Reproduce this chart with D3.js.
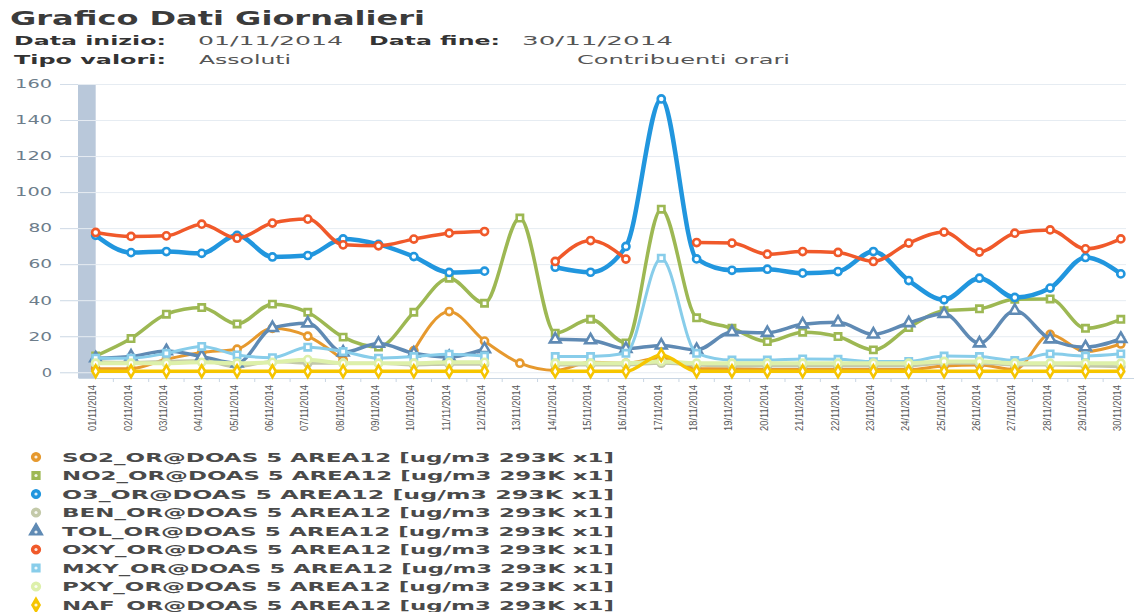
<!DOCTYPE html>
<html><head><meta charset="utf-8">
<script src="https://cdn.jsdelivr.net/npm/d3@7"></script>
<style>
html,body{margin:0;padding:0;background:#fff;}
svg{display:block;}
</style></head>
<body>
<svg id="chart" width="1134" height="612"></svg>
<script>
// ---- DATA ----
const days = ["01/11/2014","02/11/2014","03/11/2014","04/11/2014","05/11/2014","06/11/2014","07/11/2014","08/11/2014","09/11/2014","10/11/2014",
  "11/11/2014","12/11/2014","13/11/2014","14/11/2014","15/11/2014","16/11/2014","17/11/2014","18/11/2014","19/11/2014","20/11/2014",
  "21/11/2014","22/11/2014","23/11/2014","24/11/2014","25/11/2014","26/11/2014","27/11/2014","28/11/2014","29/11/2014","30/11/2014"];
const yTicks = [0,20,40,60,80,100,120,140,160];

const so2 = [2,2,7.2,11,12.8,24.4,20,6.8,null,12,33.7,17.3,5,1,5.5,5,8,2,2,1.5,1.5,1.5,1.5,1.5,3.5,4,1.5,21,11.5,15.7];
const no2 = [9,18.7,32.2,35.9,26.8,37.8,33.3,19.5,14,33.3,52.2,38.3,85.6,21.7,29.4,16.3,90.5,30.2,24.4,17,22.2,19.8,12.4,24.8,34.2,35.2,40.5,40.7,24.4,29.4];
const o3  = [76,66.4,67,66,76,64,64.8,74,71,64.2,55.4,56.1,null,58.3,55.5,69.8,151.7,62.9,56.6,57.2,55,55.9,67,50.9,40.2,52.2,41.5,46.7,63.7,54.6];
const ben = [6,5.5,6,6.5,3,6,5,5,5,4,4.5,4.5,null,4,4,4,5,4,3.5,3.5,3.5,3.5,3.5,3.5,5,5,4,4,3.5,3];
const tol = [7.8,8.8,11.8,8.8,5,24.6,27.2,11,15.9,10.5,8.5,12.9,null,18.3,17.8,13,14.9,12.4,22.3,21.9,26.6,27.7,21,27.3,32.4,16.1,34.2,18.3,13.9,18.6];
const oxy = [77.6,75.4,75.7,82.2,74.4,82.8,85,70.7,70.2,73.9,77.2,78.1,null,61.5,73.1,62.8,null,72,71.7,65.5,67,66.5,61.5,71.7,77.8,66.7,77.2,79,68.5,74];
const mxy = [7.8,7.8,10.5,14.3,9.6,8.1,13.9,11.5,7.8,8.7,10,9,null,8.7,8.7,10.5,63.3,10.5,6.8,6.8,7.4,7.2,5.9,6,9,8.7,6.5,10.2,9,10.2];
const pxy = [5,5,5,5.5,5,5.5,7,5,5,5,5.5,5.5,null,5,5,5,6,5,5,5,5,5,5,5,6,6,5,5,5,5];
const naf = [0.5,0.5,0.5,0.5,0.5,0.5,0.5,0.5,0.5,0.5,0.5,0.5,null,0.5,0.5,0.5,9.6,0.5,0.5,0.5,0.5,0.5,0.5,0.5,0.5,0.5,0.5,0.5,0.5,0.5];

const seriesNames = ["SO2_OR@DOAS 5 AREA12 [ug/m3 293K x1]","NO2_OR@DOAS 5 AREA12 [ug/m3 293K x1]","O3_OR@DOAS 5 AREA12 [ug/m3 293K x1]",
  "BEN_OR@DOAS 5 AREA12 [ug/m3 293K x1]","TOL_OR@DOAS 5 AREA12 [ug/m3 293K x1]","OXY_OR@DOAS 5 AREA12 [ug/m3 293K x1]",
  "MXY_OR@DOAS 5 AREA12 [ug/m3 293K x1]","PXY_OR@DOAS 5 AREA12 [ug/m3 293K x1]","NAF_OR@DOAS 5 AREA12 [ug/m3 293K x1]"];
const seriesValues = [so2,no2,o3,ben,tol,oxy,mxy,pxy,naf];
const seriesColors = ["#e6992e","#9db853","#2196de","#c3c9a9","#5f8ab4","#f0592a","#88cdea","#ddf0aa","#f6c500"];
const seriesSymbols = ["circle","square","circle","circle","triangle","circle","square","circle","diamond"];
const seriesWidths = [3,3.5,4.5,3,3.5,3.5,3,4,3.5];

// ---- LAYOUT ----
const svg = d3.select("#chart");
const plotLeft = 78, plotRight = 1126, plotTop = 84, plotBottom = 378;
const x = d3.scaleLinear().domain([-0.5, 29.5]).range([78, 1138.5]);
const y = d3.scaleLinear().domain([-3.2, 160]).range([plotBottom, plotTop]);

// Header
const hdr = svg.append("g").attr("font-family","DejaVu Sans, Verdana, sans-serif");
function htext(t, xx, yy, size, bold, len, color){
  hdr.append("text").attr("x",xx).attr("y",yy).attr("font-size",size)
    .attr("font-weight",bold?"bold":"normal").attr("fill",color)
    .attr("textLength",len).attr("lengthAdjust","spacingAndGlyphs").text(t);
}
htext("Grafico Dati Giornalieri",10,25,20,true,415,"#3b3b3b");
htext("Data inizio:",14,45,13,true,152,"#333");
htext("01/11/2014",198,45,13,false,145,"#555");
htext("Data fine:",369,45,13,true,131,"#333");
htext("30/11/2014",522,45,13,false,151,"#555");
htext("Tipo valori:",14,64,13,true,152,"#333");
htext("Assoluti",199,64,13,false,92,"#555");
htext("Contribuenti orari",577,64,13,false,213,"#555");

// plot band
svg.append("rect").attr("x",x(-0.5)).attr("y",plotTop).attr("width",x(0)-x(-0.5)).attr("height",plotBottom-plotTop)
  .attr("fill","#b9c8da");

// grid
svg.append("g").selectAll("line").data(yTicks).join("line")
  .attr("x1",60).attr("x2",plotRight).attr("y1",d=>y(d)+0.5).attr("y2",d=>y(d)+0.5)
  .attr("stroke","#e6ecf2").attr("stroke-width",1);
svg.append("g").selectAll("line").data(yTicks).join("line")
  .attr("x1",60).attr("x2",plotLeft).attr("y1",d=>y(d)+0.5).attr("y2",d=>y(d)+0.5)
  .attr("stroke","#d3dde8").attr("stroke-width",1);

// y axis
const yAxis = svg.append("g").attr("transform","translate(60,0)")
  .call(d3.axisLeft(y).tickValues(yTicks).tickSize(0).tickPadding(8));
yAxis.select(".domain").remove();
yAxis.selectAll("text").attr("font-family","DejaVu Sans, Verdana, sans-serif").attr("font-size",12)
  .attr("fill","#6d7d8b").attr("textLength",d=>String(d).length*13.3-3).attr("lengthAdjust","spacingAndGlyphs");

// x axis
const xAxis = svg.append("g").attr("transform",`translate(0,${plotBottom})`)
  .call(d3.axisBottom(x).tickValues(d3.range(days.length)).tickFormat(i=>days[i]).tickSize(0));
xAxis.select(".domain").attr("stroke","#c9d6e3");
xAxis.selectAll("text").attr("transform","rotate(-90)").attr("text-anchor","end")
  .attr("x",-7).attr("y",0).attr("dy","0").attr("font-family","Liberation Sans, Arial, sans-serif")
  .attr("font-size",10).attr("fill","#555").attr("textLength",46).attr("lengthAdjust","spacingAndGlyphs");
svg.append("g").selectAll("line").data(d3.range(days.length)).join("line")
  .attr("x1",i=>x(i+0.5)).attr("x2",i=>x(i+0.5)).attr("y1",plotBottom).attr("y2",plotBottom+4)
  .attr("stroke","#c9d6e3");

// symbols
function symbolPath(kind, size){
  const map = {circle:d3.symbolCircle, square:d3.symbolSquare, triangle:d3.symbolTriangle, diamond:d3.symbolDiamond};
  return d3.symbol().type(map[kind]).size(size)();
}

// series
const line = d3.line().defined(d=>d!=null).x((d,i)=>x(i)).y(d=>y(d)).curve(d3.curveMonotoneX);
seriesValues.forEach((vals,k)=>{
  const g = svg.append("g");
  g.append("path").attr("d",line(vals)).attr("fill","none").attr("stroke",seriesColors[k])
    .attr("stroke-width",seriesWidths[k]).attr("stroke-linejoin","round").attr("stroke-linecap","round");
  const pts = vals.map((v,i)=>({v,i})).filter(d=>d.v!=null);
  g.selectAll("path.m").data(pts).join("path").attr("class","m")
    .attr("transform",d=>`translate(${x(d.i)},${y(d.v)})`)
    .attr("d",symbolPath(seriesSymbols[k],seriesSymbols[k]==="triangle"?50:40))
    .attr("fill","#fff").attr("stroke",seriesColors[k]).attr("stroke-width",2.6);
});

// legend
const leg = svg.append("g");
seriesNames.forEach((n,k)=>{
  const cy = 457 + k*18.5;
  leg.append("path").attr("transform",`translate(36,${cy})`)
    .attr("d",symbolPath(seriesSymbols[k],seriesSymbols[k]==="triangle"?75:60))
    .attr("fill",seriesColors[k]).attr("stroke",seriesColors[k]).attr("stroke-width",1.5);
  leg.append("circle").attr("cx",36).attr("cy",cy+(seriesSymbols[k]==="triangle"?1:0)).attr("r",1.6).attr("fill","#fff").attr("opacity",0.85);
  leg.append("text").attr("x",62).attr("y",cy+4.5).attr("font-family","DejaVu Sans, Verdana, sans-serif")
    .attr("font-size",11.5).attr("font-weight","bold").attr("fill","#4a4a4a")
    .attr("textLength",552).attr("lengthAdjust","spacingAndGlyphs").text(n);
});
</script>
</body></html>
